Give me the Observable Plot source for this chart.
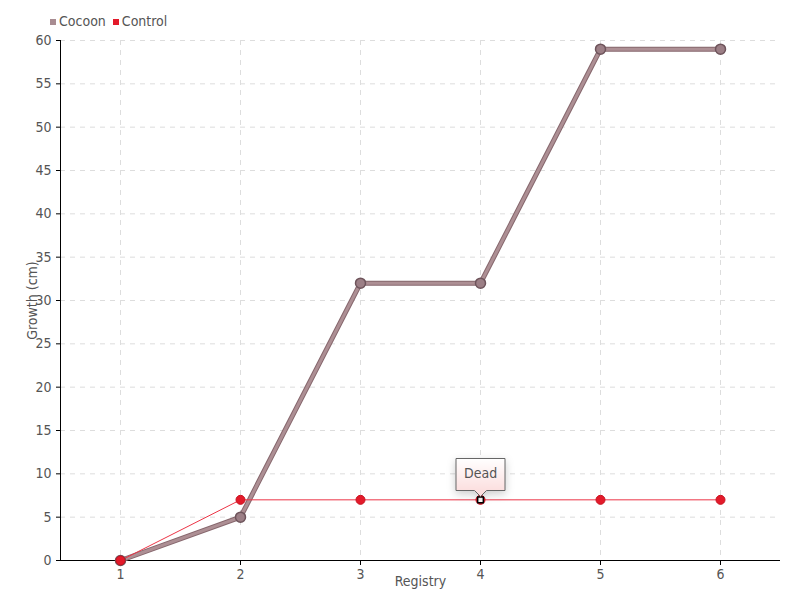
<!DOCTYPE html>
<html><head><meta charset="utf-8">
<script src="https://cdn.jsdelivr.net/npm/d3@7"></script>
<script src="https://cdn.jsdelivr.net/npm/@observablehq/plot@0.6"></script>
<style>
body{margin:0;background:#fff;font-family:"DejaVu Sans Condensed","DejaVu Sans",sans-serif;font-stretch:condensed;}
#wrap{position:relative;width:800px;height:600px;}
#legend{position:absolute;left:50px;top:13px;font-size:14px;color:#555;display:flex;gap:7px;align-items:center;}
#legend span.sw{display:inline-block;width:6px;height:6px;margin-right:3px;vertical-align:middle;}
</style></head>
<body><div id="wrap"><div id="legend"></div></div>
<script>
const registry = [1, 2, 3, 4, 5, 6];
const cocoon = [0, 5, 32, 32, 59, 59];
const control = [0, 7, 7, 7, 7, 7];
const seriesNames = ["Cocoon", "Control"];
const seriesColors = ["#a88c92", "#e31a2a"];
const yTicks = d3.range(0, 61, 5);
const annotation = [{x: 4, y: 7, label: "Dead"}];

const cData = registry.map((r, i) => ({x: r, y: cocoon[i]}));
const kData = registry.map((r, i) => ({x: r, y: control[i]}));

const legend = document.getElementById("legend");
seriesNames.forEach((n, i) => {
  const d = document.createElement("div");
  d.innerHTML = `<span class="sw" style="background:${seriesColors[i]}"></span>${n}`;
  legend.appendChild(d);
});

const font = '"DejaVu Sans Condensed","DejaVu Sans",sans-serif';
const chart = Plot.plot({
  width: 800, height: 600,
  marginLeft: 60, marginRight: 20, marginTop: 40, marginBottom: 40,
  style: {fontFamily: font, fontStretch: "condensed", fontSize: "14px", color: "#555", background: "transparent"},
  x: {domain: [0.5, 6.5]},
  y: {domain: [0, 60]},
  marks: [
    Plot.gridX(registry, {stroke: "#ddd", strokeOpacity: 1, strokeDasharray: "5,5"}),
    Plot.gridY(yTicks.filter(d => d > 0), {stroke: "#ddd", strokeOpacity: 1, strokeDasharray: "5,5"}),
    Plot.axisX({ticks: registry, tickFormat: d => d, label: "Registry", labelAnchor: "center", labelArrow: false, labelOffset: 25, tickSize: 5, stroke: "#000", fill: "#555"}),
    Plot.axisY({ticks: yTicks, label: "Growth (cm)", labelAnchor: "center", labelArrow: false, labelOffset: 33, tickSize: 4, stroke: "#000", fill: "#555"}),
    Plot.ruleX([0.5], {stroke: "#000"}),
    Plot.ruleY([0], {stroke: "#000"}),
    Plot.line(cData, {x: "x", y: "y", stroke: "#86676d", strokeWidth: 5}),
    Plot.line(cData, {x: "x", y: "y", stroke: "#ad8f94", strokeWidth: 3}),
    Plot.line(kData, {x: "x", y: "y", stroke: "#ec3446", strokeWidth: 1}),
    Plot.dot(cData, {x: "x", y: "y", r: 5, fill: "#9c7f86", stroke: "#6e545b", strokeWidth: 1.5}),
    Plot.dot(kData, {x: "x", y: "y", r: 4.5, fill: "#e31a2a", stroke: "#c8101e", strokeWidth: 1}),
    Plot.dot(annotation, {x: "x", y: "y", symbol: "square", r: 3.2, fill: "#fff", stroke: "#000", strokeWidth: 1.5}),
    Plot.tip(annotation, {x: "x", y: "y", title: "label", anchor: "bottom", dy: -3, fill: "url(#tipgrad)", stroke: "#666", textPadding: 8, fontSize: 14})
  ]
});
const ns = "http://www.w3.org/2000/svg";
const defs = document.createElementNS(ns, "defs");
defs.innerHTML = '<linearGradient id="tipgrad" x1="0" y1="0" x2="0" y2="1"><stop offset="0" stop-color="#ffffff"/><stop offset="1" stop-color="#fbd9d9"/></linearGradient>';
chart.prepend(defs);
document.getElementById("wrap").prepend(chart);
</script></body></html>
